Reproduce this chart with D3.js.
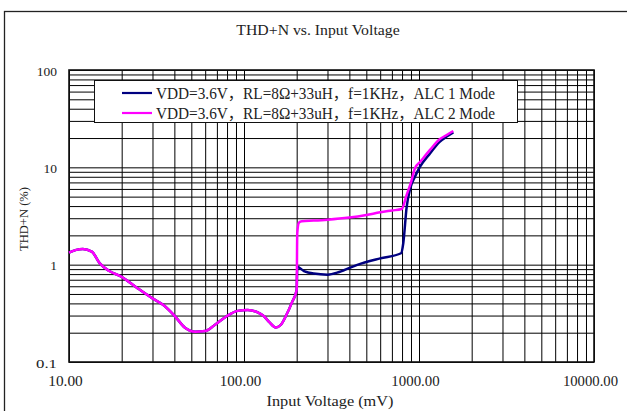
<!DOCTYPE html>
<html>
<head>
<meta charset="utf-8">
<script src="https://cdn.jsdelivr.net/npm/d3@7"></script>
<style>
  html, body { margin: 0; padding: 0; background: #fff; }
  svg { display: block; }
</style>
</head>
<body>
<svg id="chart" width="627" height="411"></svg>
<script>
// ALC 1 mode: THD+N (%) against input voltage (mV)
const alc1Voltage = [10, 11, 12, 13.5, 15, 17, 20, 24.4, 30, 34.6, 40, 46, 52.5, 60, 68, 80, 92, 105, 125, 130, 140, 152, 162, 174, 188, 200,
                     201.5, 220, 250, 300, 350, 440, 600, 790, 813, 850, 889, 948, 1016, 1156, 1312, 1439, 1570];
const alc1Thd = [1.33, 1.42, 1.45, 1.36, 1.03, 0.86, 0.75, 0.58, 0.45, 0.385, 0.30, 0.225, 0.205, 0.208, 0.24, 0.297, 0.335, 0.343, 0.31, 0.295, 0.255, 0.226, 0.24, 0.30, 0.41, 0.55,
                 0.95, 0.86, 0.81, 0.79, 0.84, 0.99, 1.16, 1.31, 1.66, 3.9, 6.0, 8.0, 10.2, 13.9, 18.3, 20.7, 22.9];

// ALC 2 mode: THD+N (%) against input voltage (mV)
const alc2Voltage = [10, 11, 12, 13.5, 15, 17, 20, 24.4, 30, 34.6, 40, 46, 52.5, 60, 68, 80, 92, 105, 125, 130, 140, 152, 162, 174, 188, 200,
                     201.5, 206, 214, 250, 300, 400, 500, 600, 700, 796, 850, 908, 948, 1016, 1156, 1312, 1439, 1570];
const alc2Thd = [1.33, 1.42, 1.45, 1.36, 1.03, 0.86, 0.75, 0.58, 0.45, 0.385, 0.30, 0.225, 0.205, 0.208, 0.24, 0.297, 0.335, 0.343, 0.31, 0.295, 0.255, 0.226, 0.24, 0.30, 0.41, 0.55,
                 2.1, 2.7, 2.8, 2.84, 2.9, 3.05, 3.24, 3.45, 3.6, 3.73, 5.2, 7.4, 9.8, 11.4, 15.1, 19.4, 21.5, 23.6];

const seriesNames = ["VDD=3.6V，RL=8Ω+33uH，f=1KHz，ALC 1 Mode",
                     "VDD=3.6V，RL=8Ω+33uH，f=1KHz，ALC 2 Mode"];
const seriesColors = ["#000080", "#ff00ff"];

const xTickValues = [10, 100, 1000, 10000];
const xTickLabels = ["10.00", "100.00", "1000.00", "10000.00"];
const yTickValues = [0.1, 1, 10, 100];
const yTickLabels = ["0.1", "1", "10", "100"];

const titleText = "THD+N vs. Input Voltage";
const xTitle = "Input Voltage (mV)";
const yTitle = "THD+N (%)";

const plotLeft = 69, plotRight = 594, plotTop = 70, plotBottom = 362;
const x = d3.scaleLog().domain([10, 10000]).range([plotLeft, plotRight]);
const y = d3.scaleLog().domain([0.1, 100]).range([plotBottom, plotTop]);

const FONT = "'Liberation Serif', 'Noto Sans CJK SC', serif";

// width in half-width cells: CJK / full-width glyphs take two
function cells(str) {
  let n = 0;
  for (const ch of str) {
    const c = ch.codePointAt(0);
    n += (c >= 0x2E80 || c === 0x03A9) ? 2 : 1;
  }
  return n;
}

const svg = d3.select("#chart");

// outer frame of the chart sheet
svg.append("rect")
  .attr("x", 4.5).attr("y", 11.5)
  .attr("width", 700).attr("height", 500)
  .attr("fill", "#fff").attr("stroke", "#222").attr("stroke-width", 1.3);

// title
svg.append("text")
  .attr("x", 318).attr("y", 30)
  .attr("text-anchor", "middle").attr("dominant-baseline", "central")
  .attr("font-family", FONT).attr("font-size", 14)
  .attr("textLength", cells(titleText) * 7.1).attr("lengthAdjust", "spacingAndGlyphs")
  .attr("fill", "#222")
  .text(titleText);

// grid: every 1..9 multiple in each decade
svg.append("g")
  .attr("transform", `translate(0,${plotBottom})`)
  .call(d3.axisBottom(x).tickValues(x.ticks()).tickSize(-(plotBottom - plotTop)).tickFormat(() => ""))
  .call(g => g.select(".domain").remove())
  .call(g => g.selectAll("line").attr("stroke", "#000").attr("stroke-width", 1));

svg.append("g")
  .attr("transform", `translate(${plotLeft},0)`)
  .call(d3.axisLeft(y).tickValues(y.ticks()).tickSize(-(plotRight - plotLeft)).tickFormat(() => ""))
  .call(g => g.select(".domain").remove())
  .call(g => g.selectAll("line").attr("stroke", "#000").attr("stroke-width", 1));

// plot frame
svg.append("rect")
  .attr("x", plotLeft).attr("y", plotTop)
  .attr("width", plotRight - plotLeft).attr("height", plotBottom - plotTop)
  .attr("fill", "none").attr("stroke", "#111").attr("stroke-width", 1.6);

// x tick labels
svg.append("g").selectAll("text")
  .data(xTickValues)
  .join("text")
  .attr("x", d => x(d) - 3.5).attr("y", 381)
  .attr("text-anchor", "middle").attr("dominant-baseline", "central")
  .attr("font-family", FONT).attr("font-size", 14)
  .attr("textLength", (d, i) => cells(xTickLabels[i]) * 6.9).attr("lengthAdjust", "spacingAndGlyphs")
  .attr("fill", "#222")
  .text((d, i) => xTickLabels[i]);

// y tick labels
svg.append("g").selectAll("text")
  .data(yTickValues)
  .join("text")
  .attr("x", 57).attr("y", d => y(d) + 1)
  .attr("text-anchor", "end").attr("dominant-baseline", "central")
  .attr("font-family", FONT)
  .attr("font-size", 13.5)
  .attr("textLength", (d, i) => yTickLabels[i].includes(".") ? 21 : null)
  .attr("lengthAdjust", "spacingAndGlyphs")
  .attr("fill", "#222")
  .text((d, i) => yTickLabels[i]);

// axis titles
svg.append("text")
  .attr("x", 330).attr("y", 401)
  .attr("text-anchor", "middle").attr("dominant-baseline", "central")
  .attr("font-family", FONT).attr("font-size", 14)
  .attr("textLength", cells(xTitle) * 7.05).attr("lengthAdjust", "spacingAndGlyphs")
  .attr("fill", "#222")
  .text(xTitle);

svg.append("text")
  .attr("transform", "translate(23,219) rotate(-90)")
  .attr("text-anchor", "middle").attr("dominant-baseline", "central")
  .attr("font-family", FONT).attr("font-size", 13)
  .attr("textLength", 64).attr("lengthAdjust", "spacingAndGlyphs")
  .attr("fill", "#222")
  .text(yTitle);

// curves
const line = d3.line()
  .x(d => x(d[0]))
  .y(d => y(d[1]))
  .curve(d3.curveMonotoneX);

const series = [
  d3.zip(alc1Voltage, alc1Thd),
  d3.zip(alc2Voltage, alc2Thd)
];

svg.append("g").selectAll("path")
  .data(series)
  .join("path")
  .attr("d", line)
  .attr("fill", "none")
  .attr("stroke", (d, i) => seriesColors[i])
  .attr("stroke-width", 2.5)
  .attr("stroke-linejoin", "round");

// legend
const legend = svg.append("g");
legend.append("rect")
  .attr("x", 94.5).attr("y", 80.5)
  .attr("width", 423).attr("height", 42)
  .attr("fill", "#fff").attr("stroke", "#111").attr("stroke-width", 1);

const rows = legend.selectAll("g.row")
  .data(seriesNames)
  .join("g")
  .attr("class", "row")
  .attr("transform", (d, i) => `translate(0,${93 + i * 20})`);

rows.append("line")
  .attr("x1", 122).attr("x2", 152)
  .attr("stroke", (d, i) => seriesColors[i])
  .attr("stroke-width", 2.2);

rows.append("text")
  .attr("x", 156).attr("y", 0)
  .attr("dominant-baseline", "central")
  .attr("font-family", FONT).attr("font-size", 16)
  .attr("textLength", 339).attr("lengthAdjust", "spacingAndGlyphs")
  .attr("fill", "#222")
  .text(d => d);
</script>
</body>
</html>
